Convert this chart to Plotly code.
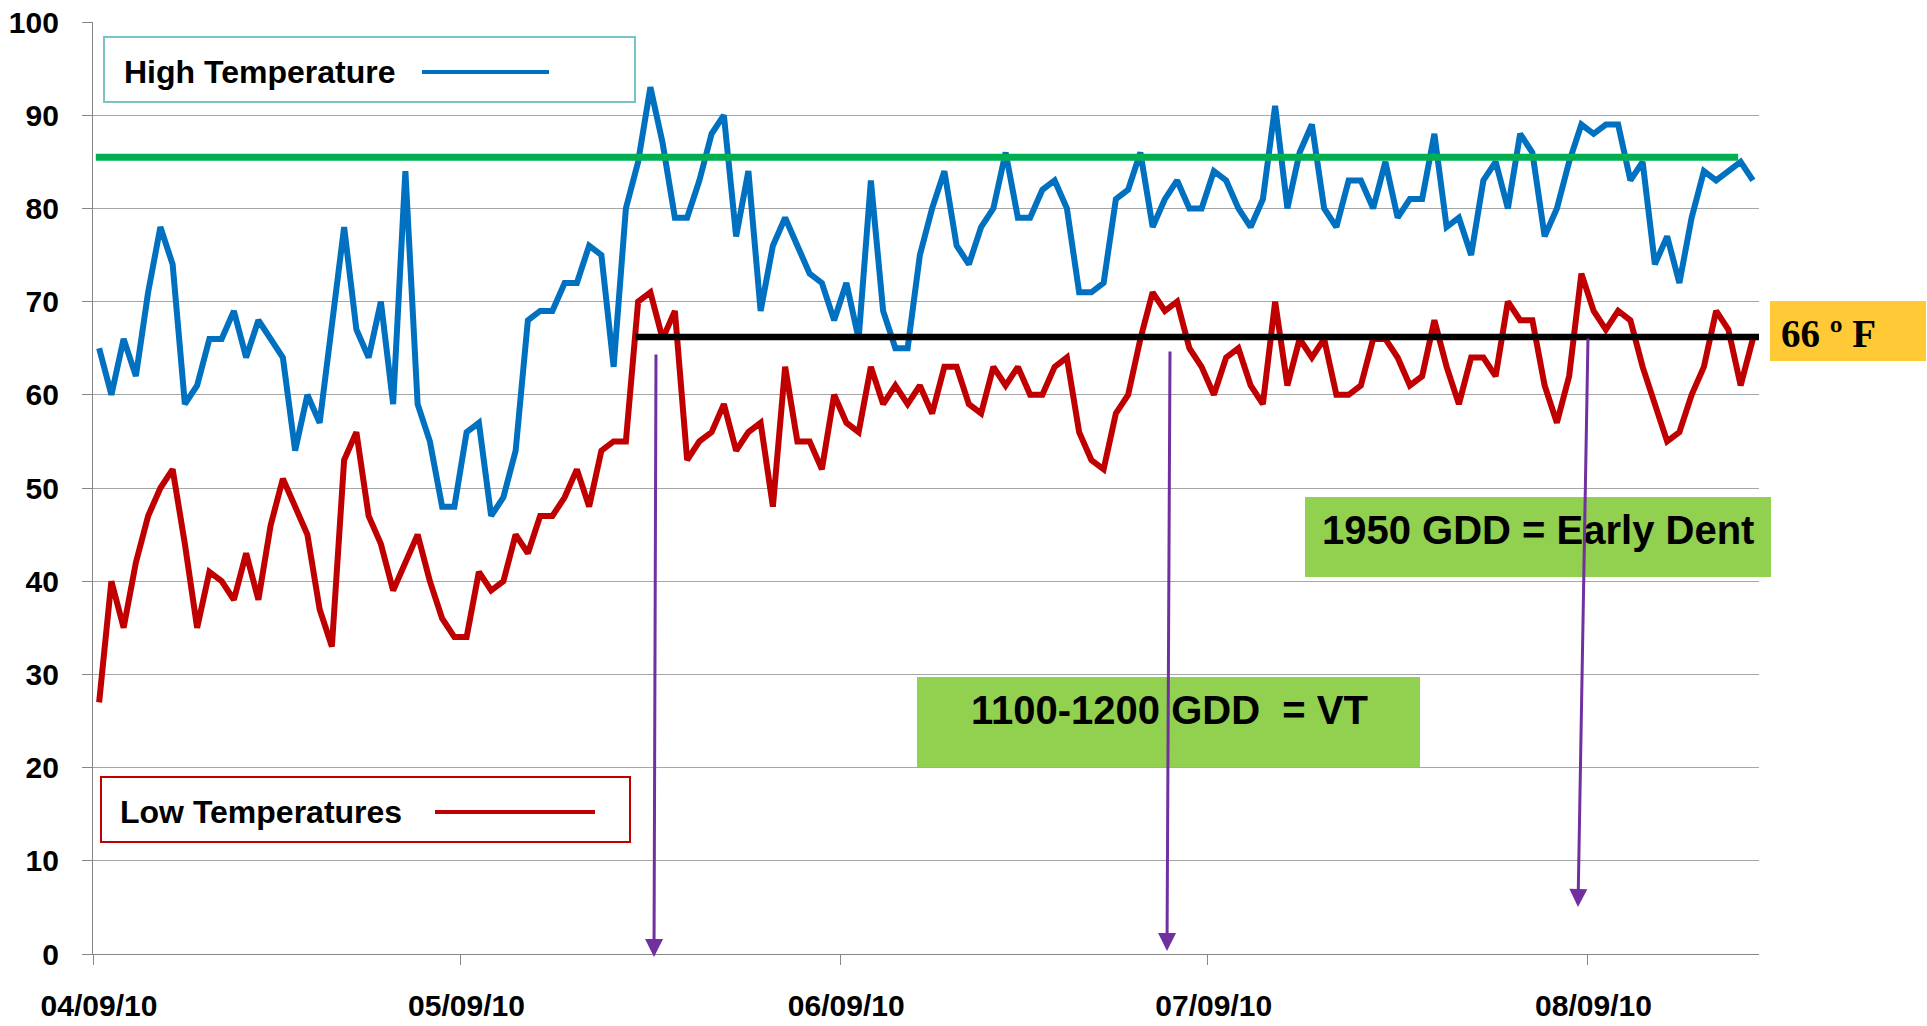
import pandas as pd
import plotly.graph_objects as go

# ---------------- data ----------------
START_DATE = "2010-04-09"
HIGH_TEMPS = [65, 60, 66, 62, 71, 78, 74, 59, 61, 66, 66, 69, 64, 68, 66, 64, 54, 60, 57, 67,
              78, 67, 64, 70, 59, 84, 59, 55, 48, 48, 56, 57, 47, 49, 54, 68, 69, 69, 72, 72,
              76, 75, 63, 80, 85, 93, 87, 79, 79, 83, 88, 90, 77, 84, 69, 76, 79, 76, 73, 72,
              68, 72, 66, 83, 69, 65, 65, 75, 80, 84, 76, 74, 78, 80, 86, 79, 79, 82, 83, 80,
              71, 71, 72, 81, 82, 86, 78, 81, 83, 80, 80, 84, 83, 80, 78, 81, 91, 80, 86, 89,
              80, 78, 83, 83, 80, 85, 79, 81, 81, 88, 78, 79, 75, 83, 85, 80, 88, 86, 77, 80,
              85, 89, 88, 89, 89, 83, 85, 74, 77, 72, 79, 84, 83, 84, 85, 83]
LOW_TEMPS = [27, 40, 35, 42, 47, 50, 52, 44, 35, 41, 40, 38, 43, 38, 46, 51, 48, 45, 37, 33,
             53, 56, 47, 44, 39, 42, 45, 40, 36, 34, 34, 41, 39, 40, 45, 43, 47, 47, 49, 52,
             48, 54, 55, 55, 70, 71, 66, 69, 53, 55, 56, 59, 54, 56, 57, 48, 63, 55, 55, 52,
             60, 57, 56, 63, 59, 61, 59, 61, 58, 63, 63, 59, 58, 63, 61, 63, 60, 60, 63, 64,
             56, 53, 52, 58, 60, 66, 71, 69, 70, 65, 63, 60, 64, 65, 61, 59, 70, 61, 66, 64,
             66, 60, 60, 61, 66, 66, 64, 61, 62, 68, 63, 59, 64, 64, 62, 70, 68, 68, 61, 57,
             62, 73, 69, 67, 69, 68, 63, 59, 55, 56, 60, 63, 69, 67, 61, 66]
TICK_DATES = ["2010-04-09", "2010-05-09", "2010-06-09", "2010-07-09", "2010-08-09"]
TICK_LABELS = ["04/09/10", "05/09/10", "06/09/10", "07/09/10", "08/09/10"]
HEAT_LIMIT = 85.5      # green reference line
NIGHT_LIMIT = 66.2     # black reference line (66 F)

# points sit in the middle of each day
dates = pd.date_range(START_DATE, periods=len(HIGH_TEMPS), freq="D") + pd.Timedelta(hours=12)

# ---------------- geometry helpers (pixel -> paper) ----------------
W, H = 1927, 1026
ML, MR, MT, MB = 93, 168, 22, 72
PL, PR, PT, PB = ML, W - MR, MT, H - MB


def px(x):
    return (x - PL) / (PR - PL)


def py(y):
    return (PB - y) / (PB - PT)


FONT = "Liberation Sans, Arial, sans-serif"
BLUE, RED, GREEN, PURPLE = "#0070C0", "#C00000", "#00B050", "#7030A0"

fig = go.Figure()
fig.add_trace(go.Scatter(x=dates, y=HIGH_TEMPS, mode="lines", name="High Temperature",
                         line=dict(color=BLUE, width=6)))
fig.add_trace(go.Scatter(x=dates, y=LOW_TEMPS, mode="lines", name="Low Temperatures",
                         line=dict(color=RED, width=6)))

shapes = []
annotations = []

# reference lines
shapes.append(dict(type="line", xref="x", yref="y", x0="2010-04-09 05:30", x1="2010-08-21 07:12",
                   y0=HEAT_LIMIT, y1=HEAT_LIMIT, line=dict(color=GREEN, width=7)))
shapes.append(dict(type="line", xref="x", yref="y", x0="2010-05-23 07:00", x1="2010-08-23 00:00",
                   y0=NIGHT_LIMIT, y1=NIGHT_LIMIT, line=dict(color="black", width=6.5)))

# legend-like boxes
shapes.append(dict(type="rect", xref="paper", yref="paper", x0=px(104), x1=px(635), y0=py(102), y1=py(37),
                   line=dict(color="#7AC4C8", width=2), fillcolor="white"))
shapes.append(dict(type="line", xref="paper", yref="paper", x0=px(422), x1=px(549), y0=py(72), y1=py(72),
                   line=dict(color=BLUE, width=4)))
annotations.append(dict(xref="paper", yref="paper", x=px(122), y=py(72), xanchor="left", yanchor="middle",
                        text="High Temperature", showarrow=False,
                        font=dict(family=FONT, size=32, color="black", weight="bold")))

shapes.append(dict(type="rect", xref="paper", yref="paper", x0=px(101), x1=px(630), y0=py(842), y1=py(777),
                   line=dict(color=RED, width=2), fillcolor="white"))
shapes.append(dict(type="line", xref="paper", yref="paper", x0=px(435), x1=px(595), y0=py(812), y1=py(812),
                   line=dict(color=RED, width=4)))
annotations.append(dict(xref="paper", yref="paper", x=px(118), y=py(812), xanchor="left", yanchor="middle",
                        text="Low Temperatures", showarrow=False,
                        font=dict(family=FONT, size=32, color="black", weight="bold")))

# green stage boxes
shapes.append(dict(type="rect", xref="paper", yref="paper", x0=px(917), x1=px(1420), y0=py(767), y1=py(677),
                   line=dict(width=0), fillcolor="#92D050"))
annotations.append(dict(xref="paper", yref="paper", x=px(1169), y=py(710), xanchor="center", yanchor="middle",
                        text="1100-1200 GDD  = VT", showarrow=False,
                        font=dict(family=FONT, size=40, color="black", weight="bold")))
shapes.append(dict(type="rect", xref="paper", yref="paper", x0=px(1305), x1=px(1771), y0=py(577), y1=py(497),
                   line=dict(width=0), fillcolor="#92D050"))
annotations.append(dict(xref="paper", yref="paper", x=px(1538), y=py(530), xanchor="center", yanchor="middle",
                        text="1950 GDD = Early Dent", showarrow=False,
                        font=dict(family=FONT, size=40, color="black", weight="bold")))

# 66 F label
shapes.append(dict(type="rect", xref="paper", yref="paper", x0=px(1770), x1=px(1926), y0=py(361), y1=py(301),
                   line=dict(width=0), fillcolor="#FFCA35"))
annotations.append(dict(xref="paper", yref="paper", x=px(1779), y=py(333), xanchor="left", yanchor="middle",
                        text="66 º F", showarrow=False,
                        font=dict(family="Liberation Serif, Times New Roman, serif", size=39,
                                  color="black", weight="bold")))

# purple arrows (tip, tail) in pixels
for (tx, ty), (sx, sy) in [((654, 957), (656, 353)), ((1167, 951), (1170, 350)), ((1578, 907), (1588, 337))]:
    annotations.append(dict(xref="paper", yref="paper", x=px(tx), y=py(ty), ax=sx - tx, ay=sy - ty,
                            text="", showarrow=True, arrowhead=2, arrowsize=1.2, arrowwidth=3,
                            arrowcolor=PURPLE, standoff=0, startstandoff=0))

fig.update_layout(
    width=W, height=H,
    margin=dict(l=ML, r=MR, t=MT, b=MB, pad=0, autoexpand=False),
    paper_bgcolor="white", plot_bgcolor="white",
    showlegend=False,
    shapes=shapes, annotations=annotations,
    font=dict(family=FONT, color="black"),
)
fig.update_xaxes(
    type="date", range=["2010-04-09", "2010-08-23"], automargin=False,
    tickvals=TICK_DATES, ticktext=TICK_LABELS,
    ticks="outside", ticklen=10, tickcolor="#868686", tickwidth=1,
    showline=True, linecolor="#868686", linewidth=1.3,
    showgrid=False, zeroline=False,
    tickfont=dict(family=FONT, size=30, color="black", weight="bold"),
    ticklabelstandoff=15, ticklabelshift=6,
)
fig.update_yaxes(
    range=[0, 100], tick0=0, dtick=10, automargin=False,
    ticks="outside", ticklen=10, tickcolor="#868686", tickwidth=1,
    showline=True, linecolor="#868686", linewidth=1.3,
    showgrid=True, gridcolor="#A6A6A6", gridwidth=1,
    zeroline=False,
    tickfont=dict(family=FONT, size=30, color="black", weight="bold"),
    ticklabelstandoff=17,
)

fig.write_html("out.html", config={"displayModeBar": False},
               post_script="document.body.style.margin='0';document.body.style.overflow='hidden';")
